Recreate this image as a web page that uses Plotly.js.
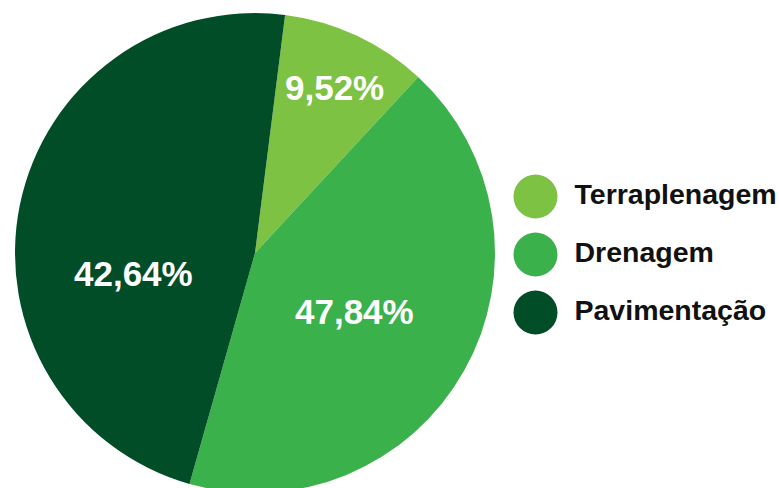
<!DOCTYPE html>
<html>
<head>
<meta charset="utf-8">
<script src="https://cdn.plot.ly/plotly-3.0.1.min.js"></script>
<style>
html,body{margin:0;padding:0;overflow:hidden;background:#fff;}
#chart{width:779px;height:500px;}
</style>
</head>
<body>
<div id="chart"></div>
<script>
// Categories and values
var categories = ["Terraplenagem", "Drenagem", "Pavimentação"];
// sector sizes as drawn in the reference (percent)
var sectorValues = [9.9, 42.5, 47.6];
// labels as printed in the reference
var printedLabels = ["9,52%", "47,84%", "42,64%"];
var colors = ["#7DC242", "#3BB14B", "#014D27"];

var W = 779, H = 500;

// label placement inside slices (paper coordinates)
var labelX = [334 / W, 354 / W, 133.5 / W];
var labelY = [(H - 87.5) / H, (H - 311.5) / H, (H - 273.5) / H];

var pie = {
  type: "pie",
  labels: categories,
  values: sectorValues,
  textinfo: "none",
  marker: {colors: colors, line: {width: 0}},
  sort: false,
  direction: "clockwise",
  rotation: 7.2,
  hoverinfo: "none",
  showlegend: false,
  domain: {x: [15 / W, 495 / W], y: [7 / H, 487 / H]}
};

var legendMarkers = {
  type: "scatter",
  mode: "markers",
  x: categories.map(function () { return 0; }),
  y: categories,
  marker: {size: 44, color: colors, line: {width: 0}},
  hoverinfo: "none",
  showlegend: false,
  cliponaxis: false
};

var legendText = {
  type: "scatter",
  mode: "text",
  x: categories.map(function () { return 0.39; }),
  y: categories,
  text: categories,
  textposition: "middle right",
  textfont: {family: "Liberation Sans, Arial, sans-serif", size: 28.5, color: "#111111", weight: "bold"},
  hoverinfo: "none",
  showlegend: false,
  cliponaxis: false
};

var annotations = printedLabels.map(function (t, i) {
  return {
    text: t,
    xref: "paper", yref: "paper",
    x: labelX[i], y: labelY[i],
    xanchor: "center", yanchor: "middle",
    showarrow: false,
    font: {family: "Liberation Sans, Arial, sans-serif", size: 35, color: "#ffffff", weight: "bold"}
  };
});

var layout = {
  width: W,
  height: H,
  margin: {l: 0, r: 0, t: 0, b: 0, pad: 0},
  paper_bgcolor: "#ffffff",
  plot_bgcolor: "rgba(0,0,0,0)",
  showlegend: false,
  annotations: annotations,
  xaxis: {domain: [0, 1], range: [-5.355, 2.435], visible: false, fixedrange: true},
  yaxis: {domain: [0, 1], type: "category", categoryarray: categories, range: [5.233, -3.388], visible: false, fixedrange: true}
};

Plotly.newPlot("chart", [pie, legendMarkers, legendText], layout, {displayModeBar: false, staticPlot: true});
</script>
</body>
</html>
